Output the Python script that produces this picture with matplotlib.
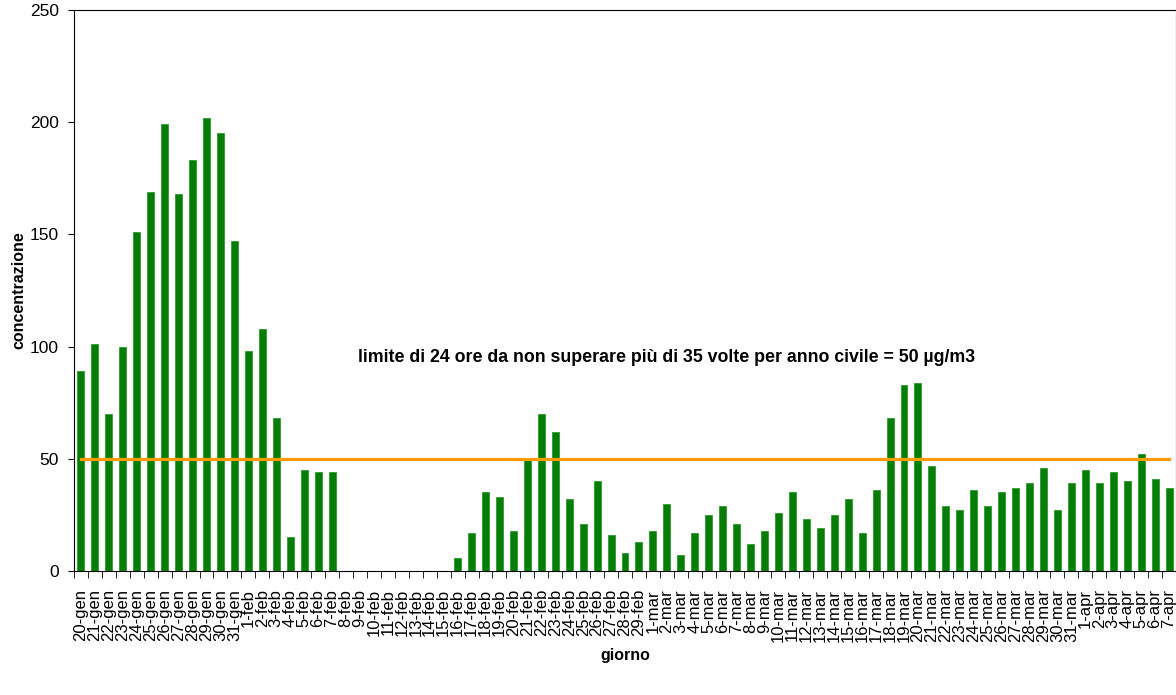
import numpy as np
import matplotlib
matplotlib.use("Agg")
import matplotlib.pyplot as plt

plt.rcParams['font.family'] = ['Liberation Sans', 'DejaVu Sans']

# days: 20-gen .. 7-apr
giorni = ([f"{d}-gen" for d in range(20, 32)] +
          [f"{d}-feb" for d in range(1, 30)] +
          [f"{d}-mar" for d in range(1, 32)] +
          [f"{d}-apr" for d in range(1, 8)])

concentrazione = [89, 101, 70, 100, 151, 169, 199, 168, 183, 202, 195, 147,   # gen
                  98, 108, 68, 15, 45, 44, 44, 0, 0, 0, 0, 0, 0, 0, 0,         # feb 1-15
                  6, 17, 35, 33, 18, 50, 70, 62, 32, 21, 40, 16, 8, 13,        # feb 16-29
                  18, 30, 7, 17, 25, 29, 21, 12, 18, 26, 35, 23, 19, 25, 32,   # mar 1-15
                  17, 36, 68, 83, 84, 47, 29, 27, 36, 29, 35, 37, 39, 46, 27, 39,  # mar 16-31
                  45, 39, 44, 40, 52, 41, 37]                                  # apr

limite = [50] * len(giorni)
testo_limite = "limite di 24 ore da non superare più di 35 volte per anno civile = 50 µg/m3"

fig = plt.figure(figsize=(11.76, 6.95), dpi=100)
ax = fig.add_axes([74/1176, 124/695, 1 - 74/1176, 561/695])

x = np.arange(len(giorni))
ax.bar(x, concentrazione, width=0.5, color='#067d06', edgecolor='#2f9a2f', linewidth=0.6)
ax.plot(x, limite, color='#ff9a00', linewidth=2.3)

ax.set_xlim(-0.5, len(giorni) - 0.5)
ax.set_ylim(0, 250)
ax.set_yticks([0, 50, 100, 150, 200, 250])
ax.tick_params(axis='y', labelsize=12.5, length=4, direction='out', pad=7)

ax.set_xticks(x)
ax.set_xticklabels(giorni, rotation=90, fontsize=12)
ax.tick_params(axis='x', length=0, pad=13)
ax.set_xticks(np.arange(len(giorni) + 1) - 0.5, minor=True)
ax.tick_params(axis='x', which='minor', length=5, direction='out')

for s in ax.spines.values():
    s.set_linewidth(0.8)

ax.set_ylabel("concentrazione", fontsize=11.5, fontweight='bold', labelpad=2)
ax.set_xlabel("giorno", fontsize=11.5, fontweight='bold', labelpad=4)

ax.text(42, 95, testo_limite, ha='center', va='center', fontsize=12.8, fontweight='bold')

fig.savefig("out.png", dpi=100)
